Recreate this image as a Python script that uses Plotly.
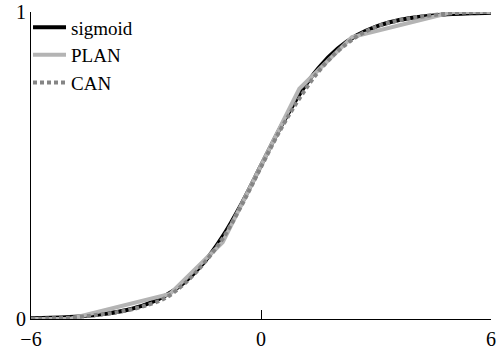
import plotly.graph_objects as go

x_sig = [-6, -5.5, -5, -4.5, -4, -3.5, -3, -2.5, -2, -1.5, -1, -0.5, 0,
         0.5, 1, 1.5, 2, 2.5, 3, 3.5, 4, 4.5, 5, 5.5, 6]
y_sig = [0.0025, 0.0041, 0.0067, 0.0110, 0.0180, 0.0293, 0.0474, 0.0759, 0.1192,
         0.1824, 0.2689, 0.3775, 0.5, 0.6225, 0.7311, 0.8176, 0.8808, 0.9241,
         0.9526, 0.9707, 0.9820, 0.9890, 0.9933, 0.9959, 0.9975]

x_plan = [-6, -5, -2.375, -1, 0, 1, 2.375, 5, 6]
y_plan = [0.0, 0.0, 0.082, 0.25, 0.5, 0.75, 0.918, 1.0, 1.0]

x_can = x_sig
y_can = [0.000, 0.002, 0.004, 0.010, 0.018, 0.028, 0.044, 0.068, 0.115, 0.180,
         0.262, 0.372, 0.495, 0.615, 0.718, 0.806, 0.872, 0.920, 0.952, 0.970,
         0.982, 0.990, 0.996, 0.999, 1.000]

x_ticks = [-6, 0, 6]
x_ticklabels = ["\u22126", "0", "6"]
y_ticks = [0, 1]
y_ticklabels = ["0", "1"]

fig = go.Figure()
fig.add_trace(go.Scatter(x=x_sig, y=y_sig, mode="lines", name="sigmoid",
                         line=dict(color="black", width=4, shape="spline"),
                         cliponaxis=False))
fig.add_trace(go.Scatter(x=x_plan, y=y_plan, mode="lines", name="PLAN",
                         line=dict(color="#b4b4b4", width=4),
                         cliponaxis=False))
fig.add_trace(go.Scatter(x=x_can, y=y_can, mode="lines", name="CAN",
                         line=dict(color="#858585", width=4, dash="4px,3px", shape="spline"),
                         cliponaxis=False))

fam = "Liberation Serif, DejaVu Serif, serif"
font = dict(family=fam, size=20, color="black")
fig.update_layout(
    template="none",
    width=501, height=351,
    margin=dict(l=31, r=10, t=12, b=32, autoexpand=False),
    paper_bgcolor="white", plot_bgcolor="white",
    font=font,
    showlegend=True,
    legend=dict(x=-0.0065, y=1.012, xanchor="left", yanchor="top", bgcolor="rgba(0,0,0,0)",
                font=dict(family=fam, size=19, color="black"),
                itemwidth=33, tracegroupgap=0, borderwidth=0),
    xaxis=dict(range=[-6, 6], showgrid=False, zeroline=False, showline=True,
               linecolor="black", linewidth=1, ticks="inside", ticklen=9, tickwidth=1.2,
               tickcolor="#000000", tickvals=x_ticks, ticktext=x_ticklabels,
               tickfont=font, ticklabeloverflow="allow", automargin=False,
               ticklabelstandoff=2, layer="above traces"),
    yaxis=dict(range=[0, 1], showgrid=False, zeroline=False, showline=True,
               linecolor="black", linewidth=1, ticks="inside", ticklen=9, tickwidth=1.2,
               tickcolor="#000000", tickvals=y_ticks, ticktext=y_ticklabels,
               tickfont=font, ticklabeloverflow="allow", automargin=False,
               layer="above traces"),
)
fig.write_html("out.html", config={"displayModeBar": False},
               post_script="document.body.style.margin='0';")
